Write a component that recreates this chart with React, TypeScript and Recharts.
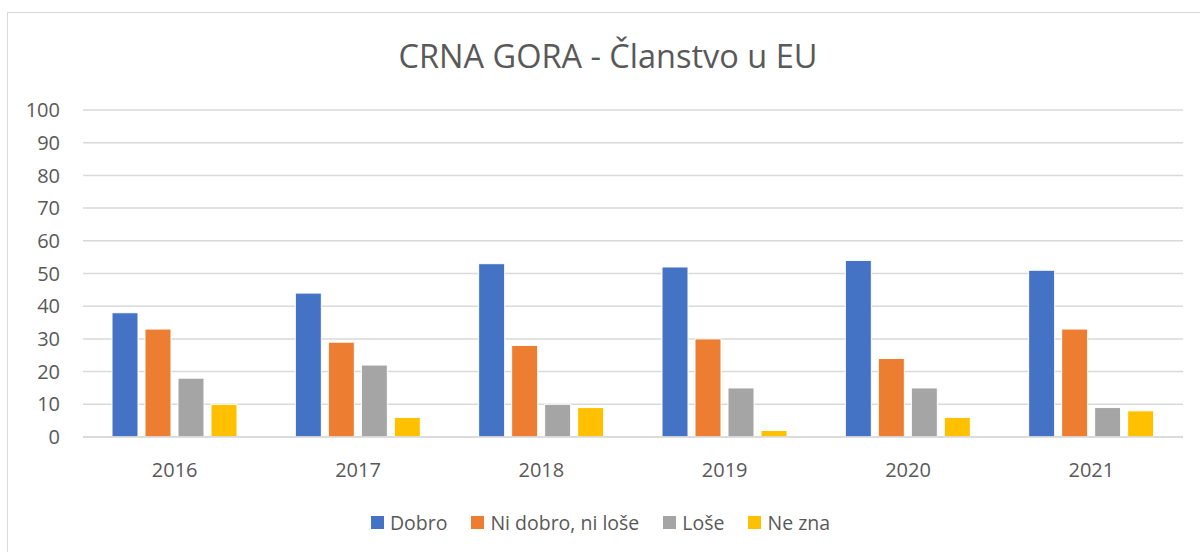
import React from 'react';
import { BarChart, Bar, XAxis, YAxis, CartesianGrid, Legend } from 'recharts';

const years = ['2016', '2017', '2018', '2019', '2020', '2021'];
const dobro = [38, 44, 53, 52, 54, 51];
const niDobroNiLose = [33, 29, 28, 30, 24, 33];
const lose = [18, 22, 10, 15, 15, 9];
const neZna = [10, 6, 9, 2, 6, 8];
const yTicks = [0, 10, 20, 30, 40, 50, 60, 70, 80, 90, 100];

const series = [
  { key: 'dobro', name: 'Dobro', color: '#4472C4' },
  { key: 'niDobroNiLose', name: 'Ni dobro, ni loše', color: '#ED7D31' },
  { key: 'lose', name: 'Loše', color: '#A5A5A5' },
  { key: 'neZna', name: 'Ne zna', color: '#FFC000' },
];

const data = years.map((y, i) => ({
  year: y,
  dobro: dobro[i],
  niDobroNiLose: niDobroNiLose[i],
  lose: lose[i],
  neZna: neZna[i],
}));

const FONT = '"Open Sans", "Noto Sans", sans-serif';
const TEXT = '#595959';

const LegendContent = () => (
  <div style={{ display: 'flex', justifyContent: 'center', alignItems: 'center', fontFamily: FONT, fontSize: 19.5, color: TEXT, height: 30 }}>
    {series.map((s, i) => (
      <div key={s.key} style={{ display: 'flex', alignItems: 'center', marginLeft: i === 0 ? 0 : 24 }}>
        <div style={{ width: 13, height: 13, background: s.color, marginRight: 6 }} />
        <span>{s.name}</span>
      </div>
    ))}
  </div>
);

export default function App() {
  return (
    <div style={{ position: 'absolute', left: 0, top: 0, width: 1200, height: 552, background: '#fff', overflow: 'hidden' }}>
      <div style={{ position: 'absolute', left: 7, top: 12, width: 1220, height: 600, border: '1.5px solid #d9d9d9', boxSizing: 'border-box' }} />
      <div style={{ position: 'absolute', left: 0, top: 36, width: 1216, textAlign: 'center', fontFamily: FONT, fontSize: 32.5, color: TEXT, lineHeight: '40px' }}>
        CRNA GORA - Članstvo u EU
      </div>
      <div style={{ position: 'absolute', left: 0, top: 0 }}>
        <BarChart
          width={1183}
          height={552}
          data={data}
          margin={{ top: 110, right: 0, bottom: 0, left: 0 }}
          barGap={7}
          barCategoryGap={29}
        >
          <CartesianGrid vertical={false} stroke="#d9d9d9" strokeWidth={1.5} />
          <XAxis
            dataKey="year"
            axisLine={{ stroke: '#d9d9d9', strokeWidth: 1.5 }}
            tickLine={false}
            tickSize={0}
            tickMargin={26}
            height={85}
            tick={{ fill: TEXT, fontSize: 20, fontFamily: FONT }}
          />
          <YAxis
            domain={[0, 100]}
            ticks={yTicks}
            interval={0}
            axisLine={false}
            tickLine={false}
            tickSize={0}
            tickMargin={23}
            width={83}
            tick={{ fill: TEXT, fontSize: 20, fontFamily: FONT }}
          />
          <Legend
            verticalAlign="bottom"
            height={30}
            wrapperStyle={{ position: 'absolute', top: 507, left: 0, width: 1201, height: 30 }}
            content={<LegendContent />}
          />
          {series.map((s) => (
            <Bar key={s.key} dataKey={s.key} name={s.name} fill={s.color} stroke="#ffffff" strokeWidth={1} isAnimationActive={false} />
          ))}
        </BarChart>
      </div>
    </div>
  );
}
